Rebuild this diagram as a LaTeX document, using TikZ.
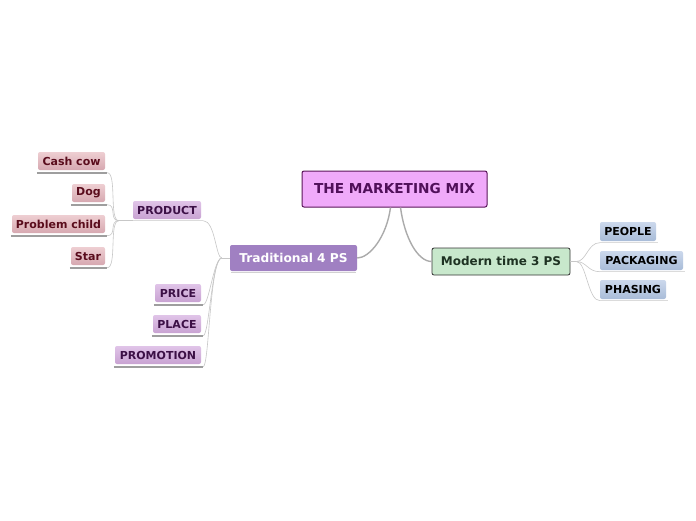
\documentclass[tikz,border=0pt]{standalone}
\usepackage{fontspec}
\setmainfont{DejaVu Sans}
\definecolor{rootfill}{RGB}{240,170,250}
\definecolor{rootdraw}{RGB}{90,20,90}
\definecolor{roottext}{RGB}{80,16,90}
\definecolor{tradfill}{RGB}{160,128,194}
\definecolor{modfill}{RGB}{200,232,204}
\definecolor{modtext}{RGB}{30,50,34}
\definecolor{bluetop}{RGB}{204,216,236}
\definecolor{bluebot}{RGB}{168,188,216}
\definecolor{purtop}{RGB}{224,196,232}
\definecolor{purbot}{RGB}{200,162,210}
\definecolor{purtext}{RGB}{60,16,70}
\definecolor{redtop}{RGB}{238,206,210}
\definecolor{redbot}{RGB}{214,168,176}
\definecolor{redtext}{RGB}{90,12,28}
\begin{document}
\begin{tikzpicture}[x=1pt,y=-1pt,
  box/.style={rounded corners=2pt,inner sep=0pt,align=center},
  rootbox/.style={box,draw=rootdraw,fill=rootfill,line width=1pt,text=roottext,font=\bfseries\fontsize{13.7}{15}\selectfont,minimum width=185pt,minimum height=36pt},
  tradbox/.style={box,fill=tradfill,text=white,font=\bfseries\fontsize{12.2}{14}\selectfont,minimum width=127pt,minimum height=26pt},
  modbox/.style={box,draw=black!80,fill=modfill,line width=0.8pt,text=modtext,font=\bfseries\fontsize{12}{14}\selectfont,minimum width=138pt,minimum height=27pt},
  bluebox/.style={box,top color=bluetop,bottom color=bluebot,text=black,font=\bfseries\fontsize{11}{13}\selectfont,minimum height=19pt},
  purbox/.style={box,top color=purtop,bottom color=purbot,text=purtext,font=\bfseries\fontsize{11}{13}\selectfont,minimum height=18pt},
  redbox/.style={box,top color=redtop,bottom color=redbot,text=redtext,font=\bfseries\fontsize{11}{13}\selectfont,minimum height=18pt},
  uline/.style={draw=black!38,line width=2pt},
  lline/.style={draw=black!14,line width=1.5pt},
  thick conn/.style={draw=black!33,line width=1.4pt},
  thin conn/.style={draw=black!22,line width=0.6pt}
]
\useasboundingbox (0,0) rectangle (696,520);
\fill[white] (0,0) rectangle (696,520);

% nodes
\node[rootbox] (root) at (394.5,189) {THE MARKETING MIX};
\node[tradbox] (trad) at (293.5,258) {Traditional 4 PS};
\draw[black!18,line width=1.2pt] ([xshift=1pt,yshift=-1.5pt]trad.south west) -- ([xshift=-1pt,yshift=-1.5pt]trad.south east);
\node[modbox] (mod) at (501,261.5) {Modern time 3 PS};

\node[bluebox,minimum width=56pt] (people) at (628,231.5) {PEOPLE};
\node[bluebox,minimum width=83pt] (pack) at (641.5,260.5) {PACKAGING};
\node[bluebox,minimum width=66pt] (phas) at (633,289.5) {PHASING};

\node[purbox,minimum width=68pt] (product) at (167,210) {PRODUCT};
\node[purbox,minimum width=46pt] (price) at (178,293) {PRICE};
\node[purbox,minimum width=48pt] (place) at (177,324) {PLACE};
\node[purbox,minimum width=86pt] (promo) at (158,355) {PROMOTION};

\node[redbox,minimum width=67pt] (cash) at (71.5,161) {Cash cow};
\node[redbox,minimum width=33pt] (dog) at (88.5,193) {Dog};
\node[redbox,minimum width=93pt] (prob) at (58.5,224) {Problem child};
\node[redbox,minimum width=34pt] (star) at (88,256) {Star};

% underlines
\foreach \n in {people,pack,phas,product}{
  \draw[lline] ([yshift=-1.5pt]\n.south west) -- ([xshift=2pt,yshift=-1.5pt]\n.south east);
}
\foreach \n in {price,place,promo,cash,dog,prob,star}{
  \draw[uline] ([xshift=-1pt,yshift=-2.5pt]\n.south west) -- ([xshift=2pt,yshift=-2.5pt]\n.south east);
}

% coordinates
\coordinate (rl) at ([xshift=-4pt]root.south);
\coordinate (rr) at ([xshift=6pt]root.south);
\coordinate (tl) at ([xshift=-8pt]trad.west);
\coordinate (pl) at ([xshift=-14pt,yshift=-1.5pt]product.south west);
\coordinate (ml) at ([xshift=6pt]mod.east);

% main connectors
\draw[thick conn] (rl) .. controls ([xshift=-4pt,yshift=-30pt]rl) and ([xshift=12pt]trad.east) .. (trad.east);
\draw[thick conn] (rr) .. controls ([xshift=4pt,yshift=-30pt]rr) and ([xshift=-14pt]mod.west) .. (mod.west);

% traditional children
\draw[thin conn] (trad.west) -- (tl);
\draw[thin conn] (tl) .. controls ([xshift=-6pt]tl) and ([xshift=14pt,yshift=-1.5pt]product.south east) .. ([xshift=2pt,yshift=-1.5pt]product.south east);
\draw[thin conn] (tl) .. controls ([xshift=-8pt]tl) and ([xshift=8pt,yshift=-2.5pt]price.south east) .. ([xshift=2pt,yshift=-2.5pt]price.south east);
\draw[thin conn] (tl) .. controls ([xshift=-10pt]tl) and ([xshift=8pt,yshift=-2.5pt]place.south east) .. ([xshift=2pt,yshift=-2.5pt]place.south east);
\draw[thin conn] (tl) .. controls ([xshift=-12pt]tl) and ([xshift=8pt,yshift=-2.5pt]promo.south east) .. ([xshift=2pt,yshift=-2.5pt]promo.south east);

% product children
\draw[thin conn] ([yshift=-1.5pt]product.south west) -- (pl);
\foreach \n in {cash,dog,prob,star}{
  \draw[thin conn] (pl) .. controls ([xshift=-10pt]pl) and ([xshift=12pt,yshift=-2.5pt]\n.south east) .. ([xshift=2pt,yshift=-2.5pt]\n.south east);
}

% modern children
\draw[thin conn] (mod.east) -- (ml);
\foreach \n in {people,pack,phas}{
  \draw[thin conn] (ml) .. controls ([xshift=10pt]ml) and ([xshift=-12pt,yshift=-1.5pt]\n.south west) .. ([yshift=-1.5pt]\n.south west);
}
\end{tikzpicture}
\end{document}
